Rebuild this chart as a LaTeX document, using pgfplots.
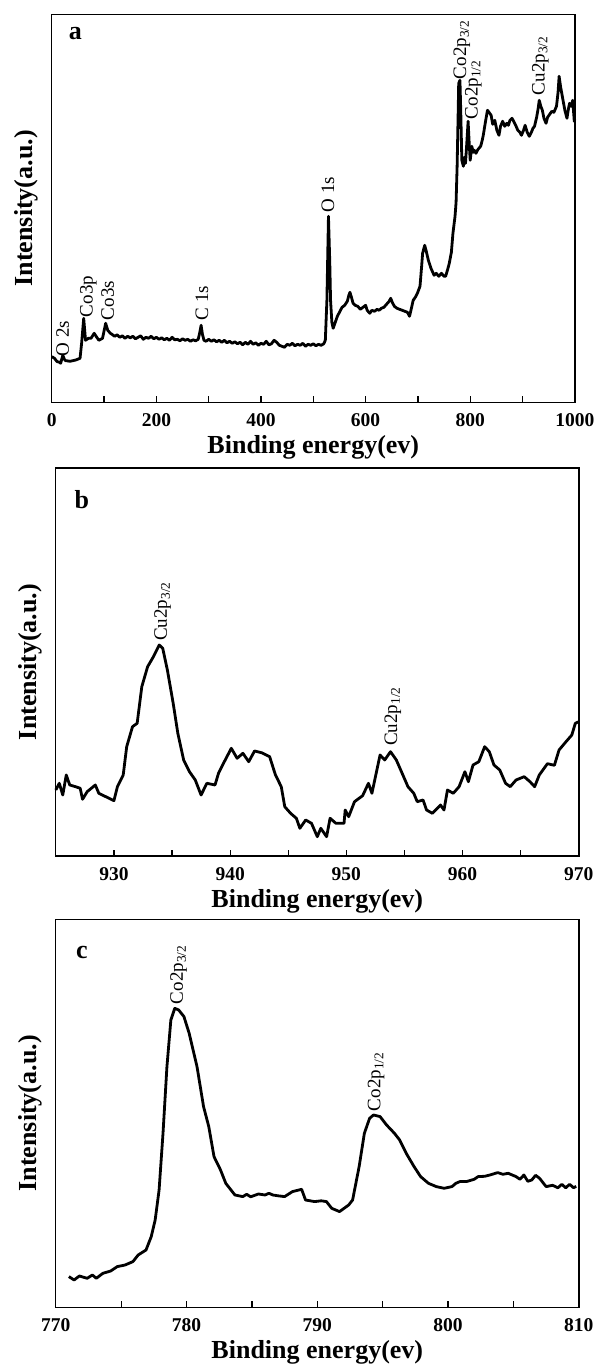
\documentclass[border=0pt]{standalone}
\usepackage{fontspec}
\setmainfont{Liberation Serif}
\usepackage{pgfplots}
\pgfplotsset{compat=1.18}
\pgfplotsset{
 xpsstyle/.style={
  scale only axis, width=523pt, height=388pt,
  ymin=0, ymax=388,
  ytick=\empty,
  axis line style={line width=1.4pt},
  tick align=inside, xtick pos=left,
  major tick length=6pt, minor tick length=6pt,
  every tick/.style={line width=1.2pt, black},
  /pgf/number format/assume math mode=true,
  /pgf/number format/1000 sep={},
  tick label style={font=\fontsize{19.5}{19.5}\selectfont\bfseries},
  xticklabel style={yshift=-8pt},
  xlabel style={font=\fontsize{26}{26}\selectfont\bfseries, at={(axis description cs:0.5,0)}, anchor=center, yshift=-45pt},
  ylabel style={font=\fontsize{26}{26}\selectfont\bfseries, at={(axis description cs:-0.048,0.5)}, anchor=center},
  xlabel={Binding energy(ev)},
  ylabel={Intensity(a.u.)},
  clip=false,
 },
}
\tikzset{
 ann/.style={rotate=90, anchor=west, inner sep=1pt, font=\fontsize{19}{19}\selectfont},
 pan/.style={font=\fontsize{26}{26}\selectfont\bfseries},
 curve/.style={black, line width=2.8pt, line join=round, mark=none},
}
\begin{document}
\begin{tikzpicture}[x=1pt,y=1pt]
\useasboundingbox (0,0) rectangle (595,1366);
% ---------------- panel a ----------------
\begin{axis}[xpsstyle, at={(51.8pt,963.7pt)}, anchor=south west,
  xmin=0, xmax=1000, xtick={0,200,...,1000}, minor xtick={100,300,...,900}]
\addplot[curve] coordinates {
(0,45.7) (5,44) (10,40.7) (15,40) (17,39) (21,47) (24,43) (26,41.7) (35,41) (46,42.3) (54,44) (57,59) (61,84) (64.5,62)
(70,64) (75,64) (81,69) (86,65) (90,62) (97,64) (103,79) (107,72) (112,69)
(115,68) (120,66) (125,67.5) (130,65) (135,66.5) (140,64) (145,66) (150,64.5) (155,66) (160,63.5) (165,65) (170,66.5)
(175,63) (180,65) (185,64) (190,66) (195,63.5) (200,65) (205,63) (210,64.5) (215,62.5) (220,64) (225,62) (230,65)
(235,62.5) (240,63) (245,61.5) (250,63.5) (255,62) (260,63) (265,61) (270,62.5) (275,61.5) (280,63) (283,70) (285.5,77)
(288,68) (291,62) (295,61) (300,63) (305,61) (310,62.5) (315,60.5) (320,62) (325,60) (330,62) (335,59.5) (340,61)
(345,59) (350,60.5) (355,58.5) (360,60) (365,57.5) (370,60) (375,58) (380,61) (385,58) (390,59.5) (395,57) (400,59)
(405,58) (410,61) (415,57.5) (420,58.5) (425,62) (430,60) (435,57) (440,56) (445,55) (450,58) (455,57) (460,59)
(465,56.5) (470,58) (475,57) (480,59) (485,56) (490,58) (495,57) (500,58.5) (505,56.5) (510,58) (515,57) (520,58.5)
(523,62) (526,102) (529,186) (531.5,140) (533,102) (535.5,80) (538,74) (542,80) (546,86) (550,90) (555,95) (560,97)
(565,101) (568,107) (570,110) (573,105) (576,99) (580,97) (585,96) (590,93) (595,95) (600,97) (603,92) (608,89)
(612,92) (617,91) (622,93) (626,92) (630,94) (635,95) (640,98) (645,101) (648,104) (651,100) (655,96) (660,94)
(665,93) (670,92) (675,91) (680,90) (684,86) (688,95) (691,102) (695,105) (699,109) (704,116) (707,135) (709,149)
(713,157) (716,151) (720,142) (725,134) (731,127) (735,129) (740,126) (745,129) (750,126) (753,126) (757,133)
(760,139) (764,150) (767,169) (771,186) (773,200) (775,236) (777,290) (778,319) (780.4,322) (782,290) (784,242)
(787,236) (789,245) (791,239) (793,255) (796,281) (798,260) (800,242) (803,256) (806,250) (808,252) (811,249)
(815,253) (820,256) (823,262) (825,267) (829,280) (833,292) (836,290) (840,287) (843,278) (847,282) (851,272)
(855,267) (858,276) (862,281) (866,276) (870,279) (873,277) (876,282) (880,284) (884,280) (887,277) (891,272)
(895,270) (898,267) (902,272) (905,277) (909,270) (913,266) (917,270) (920,274) (923,276) (927,285) (930,294)
(932,302) (935,296) (938,292) (941,284) (945,279) (948,285) (952,288) (956,291) (960,290) (965,296) (968,310)
(970,326) (973,315) (977.5,302) (981,292) (985,284) (988,294) (990,299) (993,296) (996,302) (999,281) (1000,283)
};
\node[pan] at (rel axis cs:0.045,0.95) {a};
\node[ann] at (axis cs:21,45) {O 2s};
\node[ann] at (axis cs:70,84) {Co3p};
\node[ann] at (axis cs:107,81) {Co3s};
\node[ann] at (axis cs:287,81) {C 1s};
\node[ann] at (axis cs:528,189) {O 1s};
\node[ann] at (axis cs:784,322) {Co2p\textsubscript{3/2}};
\node[ann] at (axis cs:806,282) {Co2p\textsubscript{1/2}};
\node[ann] at (axis cs:934,306) {Cu2p\textsubscript{3/2}};
\end{axis}
% ---------------- panel b ----------------
\begin{axis}[xpsstyle, at={(55.8pt,510pt)}, anchor=south west,
  xmin=925, xmax=970, xtick={930,940,...,970}, minor xtick={935,945,955,965}]
\addplot[curve] coordinates {
(925,66) (925.3,72.7) (925.6,61) (925.9,81) (926.2,71) (926.7,69.3) (927.1,67.7) (927.3,56.7) (927.7,64.3) (928.4,71)
(928.7,62.7) (929.3,59.3) (930,55.3) (930.3,69.3) (930.8,81) (931.1,109.3) (931.6,129.3) (932,132.7) (932.4,169.3)
(932.9,189.3) (933.4,199.3) (933.9,211) (934.2,207.7) (934.6,186) (935.1,152.7) (935.5,122.7) (936,96) (936.5,84.3)
(937,76) (937.5,61) (938,72.7) (938.7,71) (939,82.7) (939.5,94.3) (940.1,107.7) (940.6,97.7) (941.1,102.7)
(941.6,94.3) (942.1,105) (942.7,103.3) (943.4,99.3) (943.9,81) (944.4,69.3) (944.7,49.3) (945.2,42.7) (945.7,37.7)
(946,27.7) (946.5,36) (947,32.7) (947.5,19.3) (947.8,27.7) (948.3,19.3) (948.6,37.7) (949.1,32.7) (949.8,32.7)
(949.9,46) (950.2,39.3) (950.7,54.3) (951.4,60.3) (951.9,72.7) (952.2,62.7) (952.9,101) (953.3,96) (953.8,104.3)
(954.3,96) (954.8,82.7) (955.3,69.3) (955.8,62.7) (956.1,54.3) (956.6,56) (956.9,46) (957.4,42.7) (958.1,51)
(958.4,46) (958.7,66) (959.2,62.7) (959.7,69.3) (960.2,84.3) (960.5,74.3) (960.9,91) (961.4,94.3) (961.9,109.3)
(962.3,104.3) (962.7,91) (963.2,86) (963.7,72.7) (964.1,69.3) (964.6,76) (965.3,79.3) (965.8,74.3) (966.2,69.3)
(966.6,81) (967.3,92.3) (967.9,90.7) (968.3,106) (968.9,114.3) (969.4,121) (969.7,132.7) (970,134.3)
};
\node[pan] at (rel axis cs:0.05,0.918) {b};
\node[ann] at (axis cs:934.2,214) {Cu2p\textsubscript{3/2}};
\node[ann] at (axis cs:954,109) {Cu2p\textsubscript{1/2}};
\end{axis}
% ---------------- panel c ----------------
\begin{axis}[xpsstyle, at={(55.8pt,58.7pt)}, anchor=south west,
  xmin=770, xmax=810, xtick={770,780,...,810}, minor xtick={775,785,795,805}]
\addplot[curve] coordinates {
(771,30.7) (771.4,27.3) (771.8,31.3) (772.4,29) (772.8,32.3) (773.1,29) (773.6,34) (774.2,36.3) (774.7,40.7)
(775.3,42.3) (775.9,45.7) (776.3,52.3) (776.9,57.3) (777.3,70.7) (777.6,87.3) (777.9,117.3) (778.2,174)
(778.5,240.7) (778.8,287.3) (779.1,299) (779.4,297.3) (779.8,290.7) (780.2,274) (780.8,240.7) (781.3,200.7)
(781.7,180.7) (782.1,150.7) (782.6,137.3) (783,124) (783.4,117.3) (783.7,112.3) (784.3,110.7) (784.6,113) (784.9,110.5)
(785.5,113.3) (786,112.3) (786.3,114) (786.6,112.3) (787,111.5) (787.5,110.7) (788.1,115.7) (788.8,118) (789.1,107.3) (789.8,105.7)
(790.3,106.5) (790.7,105.7) (791.1,99) (791.7,95.7) (792.4,102.3) (792.7,107.3) (793.2,140.7) (793.6,174) (794,189) (794.3,192.3)
(794.8,190.7) (795.3,182.3) (795.9,174) (796.3,167.3) (796.8,154) (797.4,140.7) (797.9,130.7) (798.5,124)
(799.1,120.7) (799.7,119) (800.3,120.7) (800.6,124) (800.9,125.7) (801.4,125.7) (802,128) (802.3,130.7) (802.8,131) (803.2,132.3) (803.8,134.7)
(804.2,133) (804.6,134) (805.2,130.7) (805.5,128) (805.8,132.3) (806.1,126) (806.4,127.3) (806.7,132) (807,129)
(807.3,124) (807.5,120.7) (808,122) (808.4,119.5) (808.7,123) (809,119.5) (809.3,123) (809.6,119.5) (809.8,121)
};
\node[pan] at (rel axis cs:0.05,0.915) {c};
\node[ann] at (axis cs:779.4,302) {Co2p\textsubscript{3/2}};
\node[ann] at (axis cs:794.5,195) {Co2p\textsubscript{1/2}};
\end{axis}
\end{tikzpicture}
\end{document}
